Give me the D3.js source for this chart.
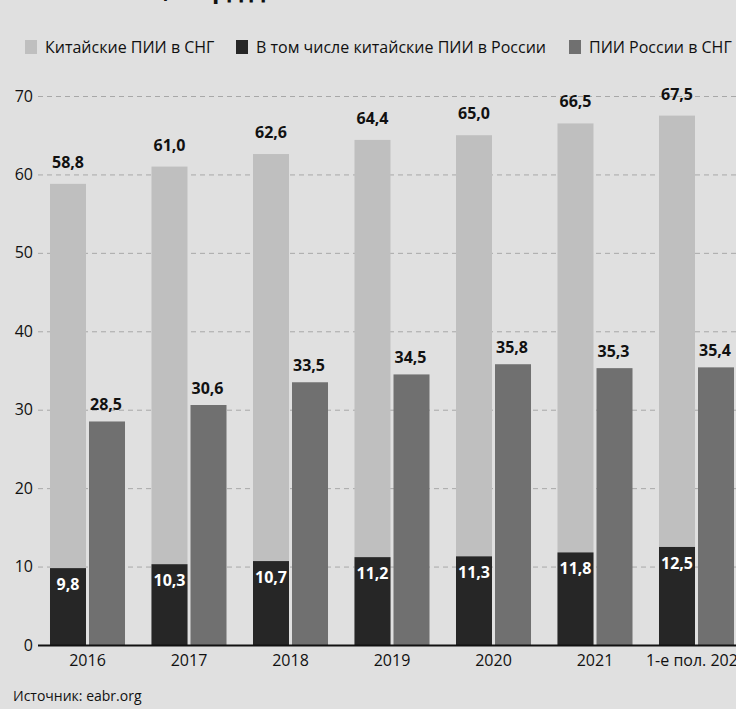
<!DOCTYPE html>
<html>
<head>
<meta charset="utf-8">
<script src="https://cdn.jsdelivr.net/npm/d3@7"></script>
<style>
  html, body { margin: 0; padding: 0; background: #e0e0e0; }
  svg { display: block; font-family: "Open Sans", "Noto Sans", sans-serif; }
</style>
</head>
<body>
<svg id="chart" width="736" height="709"></svg>
<script>
// Chinese FDI in the CIS, of which in Russia, and Russian FDI in the CIS, bn USD
const categories = ["2016", "2017", "2018", "2019", "2020", "2021", "1-е пол. 2022"];
const chinaCis    = [58.8, 61.0, 62.6, 64.4, 65.0, 66.5, 67.5];
const chinaRussia = [9.8, 10.3, 10.7, 11.2, 11.3, 11.8, 12.5];
const russiaCis   = [28.5, 30.6, 33.5, 34.5, 35.8, 35.3, 35.4];
const yTicks = [0, 10, 20, 30, 40, 50, 60, 70];
const seriesNames = ["Китайские ПИИ в СНГ", "В том числе китайские ПИИ в России", "ПИИ России в СНГ"];
const titleText = "Объем ПИИ, млрд долл.";
const sourceText = "Источник: eabr.org";

const fmt = v => v.toFixed(1).replace(".", ",");
const colors = { light: "#bfbfbf", dark: "#262626", mid: "#707070" };

const svg = d3.select("#chart");
const W = 736;

const y = d3.scaleLinear().domain([0, 70]).range([645, 96]);

const x0 = d3.scaleBand()
  .domain(categories)
  .range([36.75, 747.25])
  .paddingInner(0.261)
  .paddingOuter(0.1305);

const x1 = d3.scaleBand()
  .domain(["china", "russia"])
  .range([0, x0.bandwidth()])
  .paddingInner(3 / 39);

// Title (sits above the visible area, only descenders reach the top edge)
svg.append("text")
  .attr("x", 14).attr("y", -2.5)
  .attr("font-size", 24).attr("font-weight", 700)
  .attr("fill", "#111")
  .text(titleText);

// Legend
const legendX = [25, 236, 569];
const legendColors = [colors.light, colors.dark, colors.mid];
const legend = svg.append("g");
seriesNames.forEach((name, i) => {
  legend.append("rect")
    .attr("x", legendX[i]).attr("y", 40)
    .attr("width", 12).attr("height", 14)
    .attr("fill", legendColors[i]);
  legend.append("text")
    .attr("x", legendX[i] + 20).attr("y", 53)
    .attr("font-size", 16).attr("fill", "#111")
    .text(name);
});

// Dashed gridlines
const grid = svg.append("g")
  .attr("transform", "translate(38,0)")
  .call(d3.axisLeft(y).tickValues(yTicks.filter(t => t > 0)).tickSize(-(W - 38)).tickFormat(""));
grid.select(".domain").remove();
grid.selectAll("line")
  .attr("stroke", "#a8a8a8")
  .attr("stroke-dasharray", "5,4");

// Y axis labels
const yAxis = svg.append("g")
  .attr("transform", "translate(33,0)")
  .call(d3.axisLeft(y).tickValues(yTicks).tickSize(0).tickPadding(0));
yAxis.select(".domain").remove();
yAxis.selectAll("text")
  .attr("font-size", 16).attr("fill", "#111")
  .attr("font-family", "Open Sans, sans-serif");

// Bars
const groups = svg.append("g").selectAll("g")
  .data(categories)
  .join("g")
  .attr("transform", d => `translate(${x0(d)},0)`);

groups.append("rect")
  .attr("x", x1("china")).attr("width", x1.bandwidth())
  .attr("y", (d, i) => y(chinaCis[i]))
  .attr("height", (d, i) => y(0) - y(chinaCis[i]))
  .attr("fill", colors.light);

groups.append("rect")
  .attr("x", x1("china")).attr("width", x1.bandwidth())
  .attr("y", (d, i) => y(chinaRussia[i]))
  .attr("height", (d, i) => y(0) - y(chinaRussia[i]))
  .attr("fill", colors.dark);

groups.append("rect")
  .attr("x", x1("russia")).attr("width", x1.bandwidth())
  .attr("y", (d, i) => y(russiaCis[i]))
  .attr("height", (d, i) => y(0) - y(russiaCis[i]))
  .attr("fill", colors.mid);

// Value labels
const lbl = (sel) => sel.attr("text-anchor", "middle").attr("font-size", 16).attr("font-weight", 700);

lbl(groups.append("text"))
  .attr("x", x1("china") + x1.bandwidth() / 2)
  .attr("y", (d, i) => y(chinaCis[i]) - 16)
  .attr("fill", "#111")
  .text((d, i) => fmt(chinaCis[i]));

lbl(groups.append("text"))
  .attr("x", x1("china") + x1.bandwidth() / 2)
  .attr("y", (d, i) => y(chinaRussia[i]) + 22)
  .attr("fill", "#fff")
  .text((d, i) => fmt(chinaRussia[i]));

lbl(groups.append("text"))
  .attr("x", x1("russia") + x1.bandwidth() / 2 - 1)
  .attr("y", (d, i) => y(russiaCis[i]) - 11)
  .attr("fill", "#111")
  .text((d, i) => fmt(russiaCis[i]));

// Baseline and category axis
const xAxis = svg.append("g")
  .attr("transform", `translate(0,${y(0)})`)
  .call(d3.axisBottom(x0).tickSize(0).tickPadding(10));
xAxis.select(".domain").remove();
xAxis.selectAll("text")
  .attr("font-size", 16).attr("fill", "#111")
  .attr("font-family", "Open Sans, sans-serif");

svg.append("line")
  .attr("x1", 38).attr("x2", W)
  .attr("y1", y(0) + 0.5).attr("y2", y(0) + 0.5)
  .attr("stroke", "#111").attr("stroke-width", 2);

// Source
svg.append("text")
  .attr("x", 13).attr("y", 701)
  .attr("font-size", 14).attr("fill", "#111")
  .text(sourceText);
</script>
</body>
</html>
